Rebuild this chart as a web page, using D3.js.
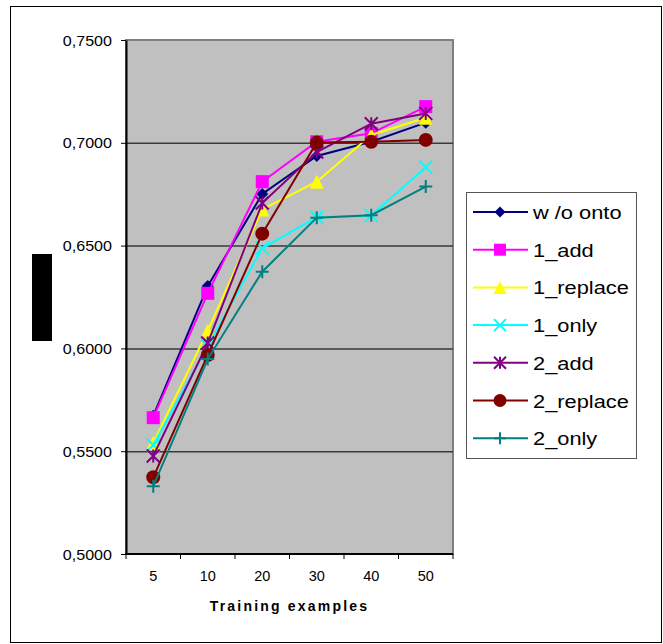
<!DOCTYPE html>
<html>
<head>
    <script src="https://cdn.jsdelivr.net/npm/d3@7" charset="utf-8"></script>
    <style type="text/css">
        body {
            margin: 0;
            background: #fff;
            font-family: "Liberation Sans", Arial, sans-serif;
        }
        text {
            fill: #000;
        }
    </style>
</head>
<body>
<div id="visContainer"></div>

<script>

// values
var categories = ["5", "10", "20", "30", "40", "50"];
var seriesNames = ["w /o onto", "1_add", "1_replace", "1_only", "2_add", "2_replace", "2_only"];
var woOnto    = [0.5672, 0.6303, 0.6751, 0.6936, 0.7005, 0.7098];
var add1      = [0.5663, 0.6268, 0.6811, 0.7005, 0.7046, 0.7176];
var replace1  = [0.5540, 0.6086, 0.6676, 0.6811, 0.7038, 0.7122];
var only1     = [0.5530, 0.6012, 0.6487, 0.6638, 0.6646, 0.6881];
var add2      = [0.5477, 0.6026, 0.6707, 0.6955, 0.7093, 0.7143];
var replace2  = [0.5373, 0.5968, 0.6558, 0.7001, 0.7005, 0.7014];
var only2     = [0.5330, 0.5948, 0.6373, 0.6636, 0.6648, 0.6787];
var yTicks = [0.50, 0.55, 0.60, 0.65, 0.70, 0.75];

var seriesValues = [woOnto, add1, replace1, only1, add2, replace2, only2];
var colors = ["#000080", "#FF00FF", "#FFFF00", "#00FFFF", "#800080", "#800000", "#008080"];
var markers = ["diamond", "square", "triangle", "cross", "star", "circle", "plus"];

var W = 663, H = 644;
var plot = {left: 126, top: 40, right: 453, bottom: 554};

var svg = d3.select("#visContainer").append("svg")
        .attr("width", W)
        .attr("height", H);

// outer frame
svg.append("rect")
        .attr("x", 10.5).attr("y", 6.5)
        .attr("width", 651).attr("height", 636)
        .attr("fill", "#fff")
        .attr("stroke", "#000").attr("stroke-width", 1);

var x = d3.scaleBand().domain(categories).range([plot.left, plot.right]);
var y = d3.scaleLinear().domain([0.5, 0.75]).range([plot.bottom, plot.top]);

// plot area
svg.append("rect")
        .attr("x", plot.left).attr("y", plot.top)
        .attr("width", plot.right - plot.left).attr("height", plot.bottom - plot.top)
        .attr("fill", "#C0C0C0")
        .attr("stroke", "#808080").attr("stroke-width", 2);

// gridlines
svg.append("g")
        .attr("transform", "translate(" + plot.left + ",0)")
        .call(d3.axisLeft(y).tickValues(yTicks.slice(1, -1)).tickSize(-(plot.right - plot.left)).tickFormat(""))
        .call(function (g) {
            g.select(".domain").remove();
            g.selectAll("line").attr("stroke", "#3a3a3a").attr("stroke-width", 1.5);
        });

// y axis
var yAxis = svg.append("g")
        .attr("transform", "translate(" + plot.left + ",0)")
        .call(d3.axisLeft(y).tickValues(yTicks).tickSize(5).tickSizeOuter(0)
                .tickFormat(function (d) { return d3.format(".4f")(d).replace(".", ","); }));
yAxis.select(".domain").attr("stroke", "#000").attr("stroke-width", 2);
yAxis.selectAll("line").attr("stroke", "#000");
yAxis.selectAll("text")
        .attr("x", 0).attr("dy", null)
        .attr("transform", "translate(-14,5) scale(1.15,1)")
        .style("font-size", "14px")
        .style("font-family", "'Liberation Sans', Arial, sans-serif")
        .attr("fill", "#000");

// x axis
var xEdges = d3.scaleLinear().domain([0, categories.length]).range([plot.left, plot.right]);
var xAxis = svg.append("g").attr("transform", "translate(0," + plot.bottom + ")");
xAxis.append("line")
        .attr("x1", plot.left - 1).attr("x2", plot.right)
        .attr("stroke", "#000").attr("stroke-width", 2);
xAxis.selectAll("line.tick")
        .data(d3.range(categories.length + 1))
        .enter().append("line")
        .classed("tick", true)
        .attr("x1", function (d) { return xEdges(d); })
        .attr("x2", function (d) { return xEdges(d); })
        .attr("y1", 0).attr("y2", 5)
        .attr("stroke", "#000");
xAxis.selectAll("text")
        .data(categories)
        .enter().append("text")
        .attr("x", function (d) { return x(d) + x.bandwidth() / 2; })
        .attr("y", 27)
        .attr("text-anchor", "middle")
        .style("font-size", "14.5px")
        .text(function (d) { return d; });

svg.append("text")
        .attr("x", (plot.left + plot.right) / 2)
        .attr("y", 611)
        .attr("text-anchor", "middle")
        .style("font-size", "14px")
        .style("font-weight", "bold")
        .style("letter-spacing", "2.2px")
        .text("Training examples");

// hidden y title (black box)
svg.append("rect")
        .attr("x", 32).attr("y", 254)
        .attr("width", 20).attr("height", 87)
        .attr("fill", "#000");

function drawMarker(g, type, color, s) {
    var h = s / 2;
    if (type === "diamond") {
        g.append("path").attr("d", "M0," + (-h) + "L" + h + ",0L0," + h + "L" + (-h) + ",0Z").attr("fill", color);
    } else if (type === "square") {
        g.append("rect").attr("x", -h).attr("y", -h).attr("width", s).attr("height", s).attr("fill", color);
    } else if (type === "triangle") {
        g.append("path").attr("d", "M0," + (-h) + "L" + h + "," + h + "L" + (-h) + "," + h + "Z").attr("fill", color);
    } else if (type === "circle") {
        g.append("circle").attr("r", h).attr("fill", color);
    } else if (type === "cross") {
        g.append("path").attr("d", "M" + (-h) + "," + (-h) + "L" + h + "," + h + "M" + h + "," + (-h) + "L" + (-h) + "," + h)
                .attr("stroke", color).attr("stroke-width", 2);
    } else if (type === "plus") {
        g.append("path").attr("d", "M" + (-h) + ",0L" + h + ",0M0," + (-h) + "L0," + h)
                .attr("stroke", color).attr("stroke-width", 2);
    } else if (type === "star") {
        g.append("path").attr("d", "M" + (-h) + "," + (-h) + "L" + h + "," + h + "M" + h + "," + (-h) + "L" + (-h) + "," + h +
                "M0," + (-h) + "L0," + h)
                .attr("stroke", color).attr("stroke-width", 2);
    }
}

var markerSizes = [12, 13, 14, 13, 13, 14, 13];

var line = d3.line()
        .x(function (d, i) { return x(categories[i]) + x.bandwidth() / 2; })
        .y(function (d) { return y(d); });

seriesValues.forEach(function (vals, si) {
    var g = svg.append("g").classed("series", true);
    g.append("path")
            .attr("d", line(vals))
            .attr("fill", "none")
            .attr("stroke", colors[si])
            .attr("stroke-width", 2);
    vals.forEach(function (v, i) {
        var m = g.append("g")
                .attr("transform", "translate(" + (x(categories[i]) + x.bandwidth() / 2) + "," + y(v) + ")");
        drawMarker(m, markers[si], colors[si], markerSizes[si]);
    });
});

// legend
var legend = svg.append("g");
legend.append("rect")
        .attr("x", 466.5).attr("y", 192.5)
        .attr("width", 170).attr("height", 266)
        .attr("fill", "#fff")
        .attr("stroke", "#555").attr("stroke-width", 1);

var items = legend.selectAll("g.item")
        .data(seriesNames)
        .enter().append("g")
        .classed("item", true)
        .attr("transform", function (d, i) { return "translate(0," + (212 + i * 37.7) + ")"; });

items.append("line")
        .attr("x1", 473).attr("x2", 528)
        .attr("stroke", function (d, i) { return colors[i]; })
        .attr("stroke-width", 2);

items.each(function (d, i) {
    var m = d3.select(this).append("g").attr("transform", "translate(500,0)");
    drawMarker(m, markers[i], colors[i], markerSizes[i] - 1);
});

items.append("text")
        .attr("transform", "translate(533,7) scale(1.18,1)")
        .style("font-size", "18.5px")
        .text(function (d) { return d; });

</script>
</body>
</html>
